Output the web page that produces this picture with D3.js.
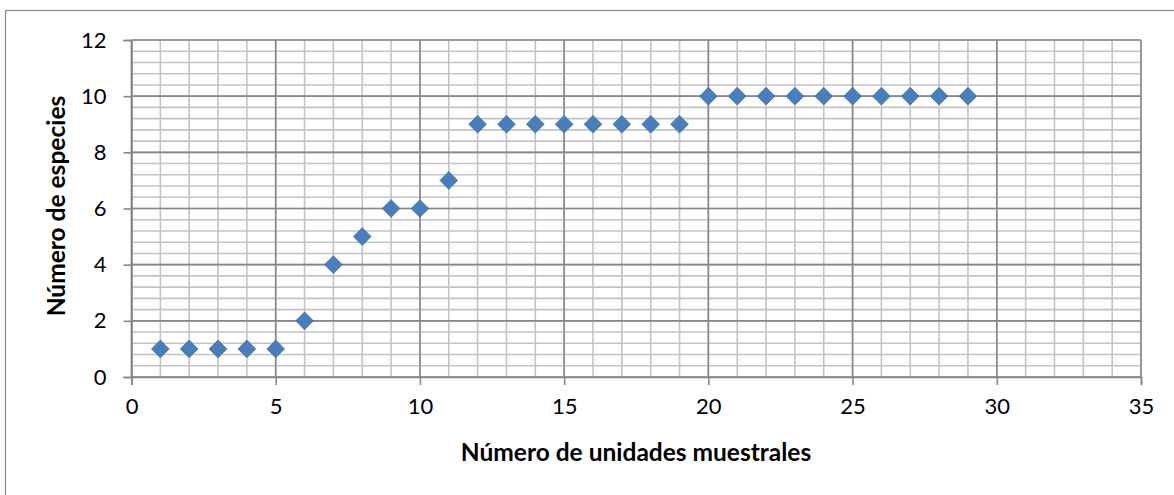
<!DOCTYPE html>
<html>
<head>
<meta charset="utf-8">
<script src="https://cdn.jsdelivr.net/npm/d3@7"></script>
<style>
  html, body { margin: 0; padding: 0; background: #fff; }
  svg { display: block; }
  text { font-family: Lato, "Open Sans", sans-serif; fill: #000; }
</style>
</head>
<body>
<svg id="chart" width="1174" height="495"></svg>
<script>
// Sampling units and cumulative species count (species accumulation curve)
const unidades = [1, 2, 3, 4, 5, 6, 7, 8, 9, 10, 11, 12, 13, 14, 15, 16, 17, 18, 19, 20, 21, 22, 23, 24, 25, 26, 27, 28, 29];
const especies = [1, 1, 1, 1, 1, 2, 4, 5, 6, 6, 7, 9, 9, 9, 9, 9, 9, 9, 9, 10, 10, 10, 10, 10, 10, 10, 10, 10, 10];

const xTicks = [0, 5, 10, 15, 20, 25, 30, 35];
const yTicks = [0, 2, 4, 6, 8, 10, 12];
const xMinor = d3.range(0, 36, 1);
const yMinor = d3.range(0, 31).map(i => +(i * 0.4).toFixed(1));

const xTitle = "Número de unidades muestrales";
const yTitle = "Número de especies";

const svg = d3.select("#chart");

// outer chart frame
svg.append("rect")
  .attr("x", 5.5).attr("y", 10.5)
  .attr("width", 1180).attr("height", 500)
  .attr("fill", "none").attr("stroke", "#8c8c8c").attr("stroke-width", 1.2);

const x = d3.scaleLinear().domain([0, 35]).range([131.5, 1141]);
const y = d3.scaleLinear().domain([0, 12]).range([377, 40]);

const grid = svg.append("g");

// minor gridlines
grid.selectAll("line.vmin").data(xMinor).join("line")
  .attr("x1", d => x(d)).attr("x2", d => x(d))
  .attr("y1", y(12)).attr("y2", y(0))
  .attr("stroke", "#c3c3c3").attr("stroke-width", 1.6);
grid.selectAll("line.hmin").data(yMinor).join("line")
  .attr("x1", x(0)).attr("x2", x(35))
  .attr("y1", d => y(d)).attr("y2", d => y(d))
  .attr("stroke", "#c3c3c3").attr("stroke-width", 1.6);

// major gridlines
grid.selectAll("line.vmaj").data(xTicks).join("line")
  .attr("x1", d => x(d)).attr("x2", d => x(d))
  .attr("y1", y(12)).attr("y2", y(0))
  .attr("stroke", "#878787").attr("stroke-width", 1.6);
grid.selectAll("line.hmaj").data(yTicks).join("line")
  .attr("x1", x(0)).attr("x2", x(35))
  .attr("y1", d => y(d)).attr("y2", d => y(d))
  .attr("stroke", "#878787").attr("stroke-width", 1.6);

// axes
const xAxis = d3.axisBottom(x).tickValues(xTicks).tickSize(8).tickPadding(14).tickFormat(d3.format("d"));
const yAxis = d3.axisLeft(y).tickValues(yTicks).tickSize(8).tickPadding(17).tickFormat(d3.format("d"));

const gx = svg.append("g").attr("transform", `translate(0,${y(0)})`).call(xAxis);
const gy = svg.append("g").attr("transform", `translate(${x(0)},0)`).call(yAxis);

[gx, gy].forEach(g => {
  g.select(".domain").attr("stroke", "#878787").attr("stroke-width", 1.6);
  g.selectAll(".tick line").attr("stroke", "#878787").attr("stroke-width", 1.6);
  g.selectAll(".tick text")
    .attr("font-family", "Lato, 'Open Sans', sans-serif")
    .attr("font-size", 22).attr("fill", "#000");
});
gx.selectAll(".tick text").attr("dy", "0.68em");

// diamond markers
const diamond = d3.symbol().type(d3.symbolDiamond2).size(200);
svg.append("g").selectAll("path").data(unidades).join("path")
  .attr("d", diamond)
  .attr("transform", (d, i) => `translate(${x(d)},${y(especies[i])})`)
  .attr("fill", "#4a7ebb")
  .attr("stroke", "#3f70ab").attr("stroke-width", 0.8);

// axis titles
svg.append("text")
  .attr("x", 636).attr("y", 461)
  .attr("text-anchor", "middle")
  .attr("font-size", 24.5).attr("font-weight", "bold")
  .text(xTitle);

svg.append("text")
  .attr("transform", "translate(65,206) rotate(-90)")
  .attr("text-anchor", "middle")
  .attr("font-size", 24.5).attr("font-weight", "bold")
  .text(yTitle);
</script>
</body>
</html>
